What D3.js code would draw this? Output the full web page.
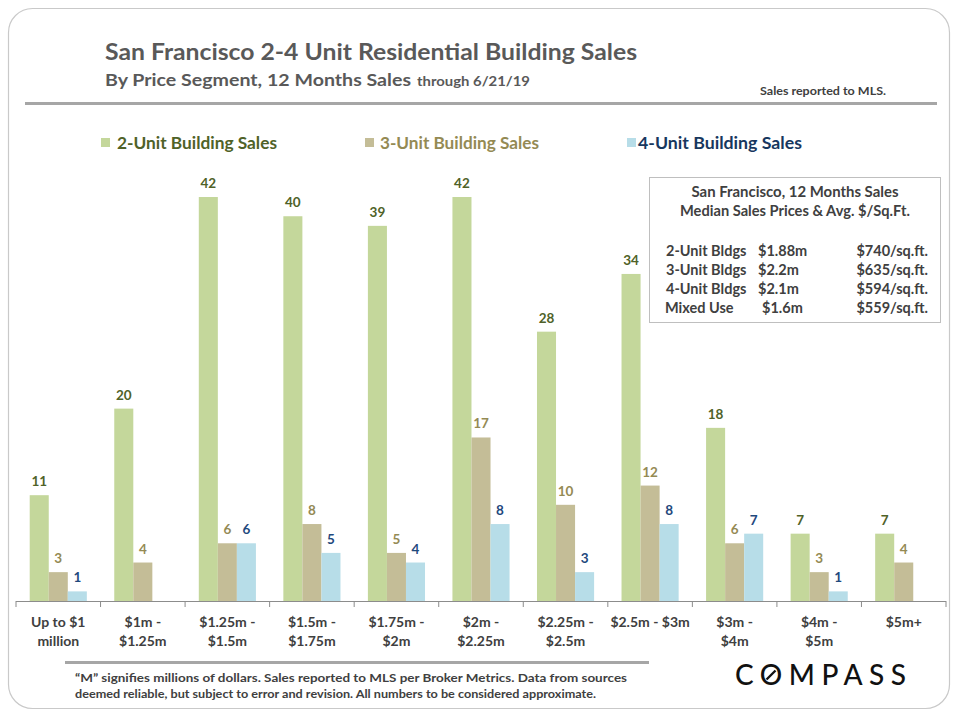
<!DOCTYPE html>
<html><head><meta charset="utf-8">
<script src="https://cdn.jsdelivr.net/npm/d3@7"></script>
<style>
html,body{margin:0;padding:0;background:#fff;}
svg{display:block;}
text{font-family:Lato,"Open Sans",sans-serif;}
</style></head>
<body>
<script>
const categories = [["Up to $1","million"],["$1m -","$1.25m"],["$1.25m -","$1.5m"],["$1.5m -","$1.75m"],["$1.75m -","$2m"],["$2m -","$2.25m"],["$2.25m -","$2.5m"],["$2.5m - $3m"],["$3m -","$4m"],["$4m -","$5m"],["$5m+"]];
const seriesNames = ["2-Unit Building Sales","3-Unit Building Sales","4-Unit Building Sales"];
const unit2 = [11,20,42,40,39,42,28,34,18,7,7];
const unit3 = [3,4,6,8,5,17,10,12,6,3,4];
const unit4 = [1,null,6,5,4,8,3,8,7,1,null];
const boxTitle = ["San Francisco, 12 Months Sales","Median Sales Prices & Avg. $/Sq.Ft."];
const boxRows = [["2-Unit Bldgs","$1.88m","$740/sq.ft."],["3-Unit Bldgs","$2.2m","$635/sq.ft."],["4-Unit Bldgs","$2.1m","$594/sq.ft."],["Mixed Use","$1.6m","$559/sq.ft."]];

const barColors = ["#c4d79b","#c4bd97","#b7dde8"];
const labelColors = ["#4f6228","#948a54","#1f497d"];
const legendColors = ["#4f6228","#948a54","#17375e"];

const W=960,H=720;
const svg=d3.select("body").append("svg").attr("width",W).attr("height",H);

// card
svg.append("rect").attr("x",8.5).attr("y",8.5).attr("width",941).attr("height",700).attr("rx",24).attr("ry",24)
  .attr("fill","#fff").attr("stroke","#c9c9c9").attr("stroke-width",1.2);

// titles
svg.append("text").attr("x",105).attr("y",60).attr("font-size",22).attr("font-weight","bold").attr("fill","#595959")
  .attr("textLength",532).attr("lengthAdjust","spacingAndGlyphs")
  .text("San Francisco 2-4 Unit Residential Building Sales");
svg.append("text").attr("x",105).attr("y",86).attr("font-size",17.5).attr("font-weight","bold").attr("fill","#595959")
  .attr("textLength",306).attr("lengthAdjust","spacingAndGlyphs")
  .text("By Price Segment, 12 Months  Sales");
svg.append("text").attr("x",417).attr("y",86).attr("font-size",12.5).attr("font-weight","bold").attr("fill","#595959")
  .attr("textLength",113).attr("lengthAdjust","spacingAndGlyphs")
  .text("through 6/21/19");
svg.append("text").attr("x",760).attr("y",95).attr("font-size",11).attr("font-weight","bold").attr("fill","#404040")
  .attr("textLength",126).attr("lengthAdjust","spacingAndGlyphs")
  .text("Sales reported to MLS.");
svg.append("rect").attr("x",25).attr("y",102).attr("width",912).attr("height",3).attr("fill","#a6a6a6");

// legend
const legX=[101,365,627];
const legTX=[117,380,638];
const legLen=[160,159,164];
seriesNames.forEach((n,i)=>{
  svg.append("rect").attr("x",legX[i]).attr("y",138).attr("width",9).attr("height",9).attr("fill",barColors[i]);
  svg.append("text").attr("x",legTX[i]).attr("y",149).attr("font-size",17).attr("font-weight","bold").attr("fill",legendColors[i])
    .attr("textLength",legLen[i]).attr("lengthAdjust","spacingAndGlyphs").text(n);
});

// scales
const x=d3.scaleBand().domain(d3.range(categories.length)).range([16,946]).paddingInner(0).paddingOuter(0);
const xs=d3.scaleBand().domain([0,1,2]).range([0,x.bandwidth()]).paddingInner(0).paddingOuter(0.72);
const y=d3.scaleLinear().domain([0,42]).range([601,197]);

const data=[unit2,unit3,unit4];
const g=svg.append("g");
data.forEach((arr,s)=>{
  arr.forEach((v,i)=>{
    if(v==null) return;
    g.append("rect").attr("x",x(i)+xs(s)).attr("y",y(v)).attr("width",xs.bandwidth()).attr("height",y(0)-y(v)).attr("fill",barColors[s]);
    g.append("text").attr("x",x(i)+xs(s)+xs.bandwidth()/2).attr("y",y(v)-9).attr("text-anchor","middle")
      .attr("font-size",13.5).attr("font-weight","bold").attr("fill",labelColors[s]).text(v);
  });
});

// axis
const ax=svg.append("g").attr("transform","translate(0,601)")
  .call(d3.axisBottom(x).tickSize(0).tickFormat(""));
ax.select(".domain").attr("stroke","#8c8c8c").attr("d","M16,0.5H946");
const bounds=d3.range(categories.length+1).map(i=> i<categories.length? x(i): x(categories.length-1)+x.bandwidth());
ax.selectAll("line.bt").data(bounds).enter().append("line").attr("class","bt")
  .attr("x1",d=>d).attr("x2",d=>d).attr("y1",0).attr("y2",6).attr("stroke","#8c8c8c");
categories.forEach((c,i)=>{
  const t=ax.append("text").attr("x",x(i)+x.bandwidth()/2).attr("y",26).attr("text-anchor","middle")
    .attr("font-size",14).attr("font-weight","bold").attr("fill","#404040");
  c.forEach((line,j)=>t.append("tspan").attr("x",x(i)+x.bandwidth()/2).attr("dy",j?19:0).text(line));
});

// info box
svg.append("rect").attr("x",649.5).attr("y",177.5).attr("width",291).attr("height",145).attr("fill","#fff").attr("stroke","#bfbfbf");
const tLen=[207,230];
boxTitle.forEach((t,i)=>svg.append("text").attr("x",795).attr("y",197+i*19).attr("text-anchor","middle")
  .attr("font-size",14.5).attr("font-weight","bold").attr("fill","#404040")
  .attr("textLength",tLen[i]).attr("lengthAdjust","spacingAndGlyphs").text(t));
boxRows.forEach((r,i)=>{
  const yy=256+i*19;
  svg.append("text").attr("x",i===3?665:666).attr("y",yy).attr("font-size",14.5).attr("font-weight","bold").attr("fill","#404040").text(r[0]);
  svg.append("text").attr("x",i===3?762:758).attr("y",yy).attr("font-size",14.5).attr("font-weight","bold").attr("fill","#404040").text(r[1]);
  svg.append("text").attr("x",928).attr("y",yy).attr("text-anchor","end").attr("font-size",14.5).attr("font-weight","bold").attr("fill","#404040").text(r[2]);
});

// footer
svg.append("rect").attr("x",65).attr("y",661).attr("width",584).attr("height",3).attr("fill","#a6a6a6");
svg.append("text").attr("x",75).attr("y",682).attr("font-size",10.5).attr("font-weight","bold").attr("fill","#404040")
  .attr("textLength",552).attr("lengthAdjust","spacingAndGlyphs")
  .text("\u201CM\u201D signifies millions of dollars. Sales reported to MLS per Broker Metrics. Data from sources");
svg.append("text").attr("x",75).attr("y",698).attr("font-size",10.5).attr("font-weight","bold").attr("fill","#404040")
  .attr("textLength",521).attr("lengthAdjust","spacingAndGlyphs")
  .text("deemed reliable, but subject to error and revision. All numbers to be considered approximate.");

// logo
const logo=svg.append("text").attr("x",735).attr("y",685).attr("font-size",28).attr("font-family","'Open Sans',sans-serif")
  .attr("font-weight",500).attr("fill","#111").attr("textLength",171).attr("lengthAdjust","spacing").text("COMPASS");
try{
  const e=logo.node().getExtentOfChar(1);
  const cx=e.x+e.width/2, cy=685-10;
  svg.append("line").attr("x1",cx-4.5).attr("y1",cy+4.5).attr("x2",cx+4.5).attr("y2",cy-4.5)
    .attr("stroke","#111").attr("stroke-width",2.4).attr("stroke-linecap","butt");
}catch(err){}
</script>
</body></html>
